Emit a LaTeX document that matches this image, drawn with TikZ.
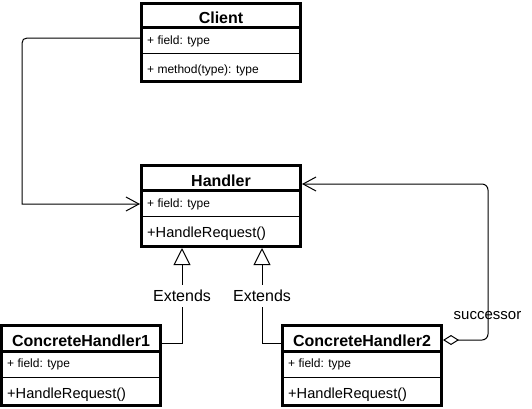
\documentclass[tikz,border=0pt]{standalone}
\usepackage{fontspec}
\setmainfont{Liberation Sans}
\usetikzlibrary{arrows.meta}
\begin{document}
\begin{tikzpicture}[x=1pt,y=-1pt,
  classbox/.style={draw, line width=3pt, inner sep=0pt, anchor=north west, minimum width=159pt},
  septhick/.style={line width=3pt},
  septhin/.style={line width=1pt},
  title/.style={font=\fontsize{16}{19}\selectfont\bfseries, inner sep=0pt},
  member/.style={font=\fontsize{12}{14}\selectfont, anchor=west, inner sep=0pt},
  opname/.style={font=\fontsize{14.6}{17}\selectfont, anchor=west, inner sep=0pt},
  conn/.style={line width=1pt},
  extlabel/.style={font=\fontsize{16}{19}\selectfont, fill=white, inner xsep=1pt, inner ysep=5pt},
  succlabel/.style={font=\fontsize{15}{18}\selectfont, inner sep=0pt},
  openhead/.style={-{Straight Barb[length=13pt,width=14pt]}},
  genhead/.style={-{Triangle[open,length=17pt,width=17pt]}}
]
\useasboundingbox (0,0) rectangle (532,408);

% ---- Client ----
\node[classbox, minimum height=78pt] (client) at (140,2) {};
\coordinate (clsA) at (0,27.5);
\coordinate (clsB) at (0,53);
\draw[septhick] (client.west |- clsA) -- (client.east |- clsA);
\draw[septhin] (client.west |- clsB) -- (client.east |- clsB);
\node[title] (clientT) at (221,17.5) {Client};
\node[member] (clientF) at (147,41.5) {+ field: type};
\node[member] (clientM) at (147,70.5) {+ method(type): type};

% ---- Handler ----
\node[classbox, minimum height=81pt] (handler) at (140,164) {};
\coordinate (hsA) at (0,190);
\coordinate (hsB) at (0,216.5);
\draw[septhick] (handler.west |- hsA) -- (handler.east |- hsA);
\draw[septhin] (handler.west |- hsB) -- (handler.east |- hsB);
\node[title] (handlerT) at (221,180.5) {Handler};
\node[member] (handlerF) at (147,204.5) {+ field: type};
\node[opname] (handlerO) at (147,234) {+HandleRequest()};

% ---- ConcreteHandler1 ----
\node[classbox, minimum height=80pt] (ch1) at (0,324) {};
\coordinate (csA) at (0,351);
\coordinate (csB) at (0,377);
\draw[septhick] (ch1.west |- csA) -- (ch1.east |- csA);
\draw[septhin] (ch1.west |- csB) -- (ch1.east |- csB);
\node[title] (ch1T) at (81,340.5) {ConcreteHandler1};
\node[member] (ch1F) at (7,364) {+ field: type};
\node[opname] (ch1O) at (7,394.5) {+HandleRequest()};

% ---- ConcreteHandler2 ----
\node[classbox, minimum height=80pt] (ch2) at (281,324) {};
\draw[septhick] (ch2.west |- csA) -- (ch2.east |- csA);
\draw[septhin] (ch2.west |- csB) -- (ch2.east |- csB);
\node[title] (ch2T) at (362,340.5) {ConcreteHandler2};
\node[member] (ch2F) at (288,364) {+ field: type};
\node[opname] (ch2O) at (288,394.5) {+HandleRequest()};

% ---- Client -> Handler ----
\coordinate (k1) at (22,38);
\coordinate (k1a) at (33,38);
\coordinate (k1b) at (22,49);
\coordinate (k2) at (22,204);
\draw[conn, openhead] (client.west |- k1) -- (k1a) .. controls (k1) .. (k1b) -- (k2) -- (handler.west |- k2);

% ---- Generalizations ----
\coordinate (e1) at (182,343);
\coordinate (e2) at (262,343);
\draw[conn, genhead] (ch1.east |- e1) -- (e1) -- (handler.south -| e1);
\draw[conn, genhead] (ch2.west |- e2) -- (e2) -- (handler.south -| e2);
\node[extlabel] (ext1) at (182,296) {Extends};
\node[extlabel] (ext2) at (262,296) {Extends};

% ---- successor ----
\coordinate (s1) at (488,340);
\coordinate (s2) at (488,184);
\draw[conn, rounded corners=6pt, {Diamond[open,length=16pt,width=10pt]}-{Straight Barb[length=13pt,width=14pt]}]
  (ch2.east |- s1) -- (s1) -- (s2) -- (handler.east |- s2);
\node[succlabel] (succ) at (487.5,316) {successor};
\end{tikzpicture}
\end{document}
